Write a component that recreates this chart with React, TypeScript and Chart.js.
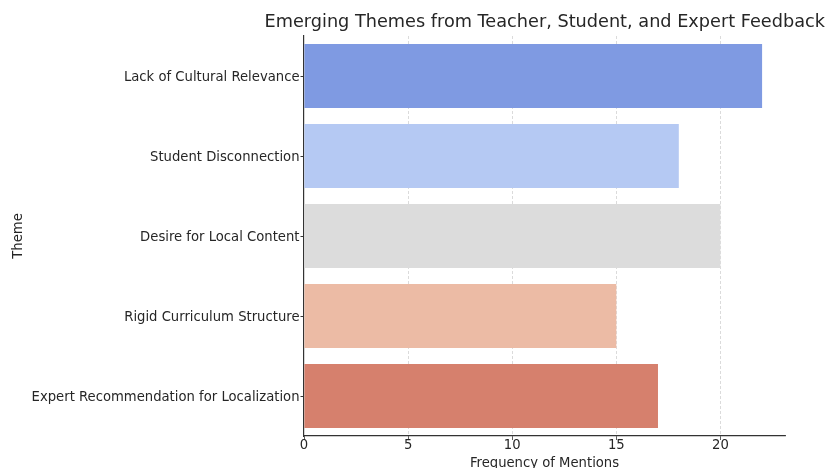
import React, { useEffect, useRef } from "react";
import { Chart, registerables } from "chart.js";

Chart.register(...registerables);

const categories = [
  "Lack of Cultural Relevance",
  "Student Disconnection",
  "Desire for Local Content",
  "Rigid Curriculum Structure",
  "Expert Recommendation for Localization",
];
const mentions = [22, 18, 20, 15, 17];
const barColors = ["#7F9AE2", "#B5C9F3", "#DCDCDC", "#ECBBA5", "#D6806D"];
const xTicks = [0, 5, 10, 15, 20];
const titleText = "Emerging Themes from Teacher, Student, and Expert Feedback";
const xTitle = "Frequency of Mentions";
const yTitle = "Theme";

const FONT = "'DejaVu Sans', sans-serif";
const TEXT = "#262626";

export default function App() {
  const ref = useRef<HTMLCanvasElement | null>(null);

  useEffect(() => {
    if (!ref.current) return;
    const chart = new Chart(ref.current, {
      type: "bar",
      data: {
        labels: categories,
        datasets: [
          {
            data: mentions,
            backgroundColor: barColors,
            borderWidth: 0,
            categoryPercentage: 0.8,
            barPercentage: 1,
          },
        ],
      },
      options: {
        indexAxis: "y",
        animation: false,
        responsive: true,
        maintainAspectRatio: false,
        layout: { padding: { left: 0, right: 3, top: 0, bottom: 0 } },
        plugins: {
          legend: { display: false },
          tooltip: { enabled: false },
          title: {
            display: true,
            text: titleText,
            align: "end",
            color: TEXT,
            font: { family: FONT, size: 17.7, weight: "normal" },
            padding: { top: 12, bottom: 2.76 },
          },
        },
        scales: {
          x: {
            min: 0,
            max: 23.1,
            z: 1,
            afterBuildTicks: (scale: any) => {
              scale.ticks = xTicks.map((v) => ({ value: v }));
            },
            afterFit: (scale: any) => {
              scale.height = 44;
            },
            ticks: {
              color: TEXT,
              font: { family: FONT, size: 13.2 },
              padding: -2,
            },
            grid: {
              display: true,
              drawOnChartArea: true,
              color: (ctx: any) =>
                ctx.tick && ctx.tick.value === 0 ? "rgba(0,0,0,0)" : "rgba(0,0,0,0.18)",
              tickColor: "#333333",
              tickLength: 4,
              lineWidth: 0.8,
            },
            border: { display: true, color: "#333333", width: 1.2, dash: [3, 2] },
            title: {
              display: true,
              text: xTitle,
              color: TEXT,
              font: { family: FONT, size: 13.2 },
              padding: { top: 0, bottom: 8.2 },
            },
          },
          y: {
            afterFit: (scale: any) => {
              scale.width = 304;
            },
            ticks: {
              color: TEXT,
              font: { family: FONT, size: 13.2 },
              padding: 1,
              labelOffset: 1.5,
            },
            grid: {
              display: true,
              offset: false,
              drawOnChartArea: false,
              tickColor: "#333333",
              tickLength: 3.5,
            },
            border: { display: true, color: "#333333", width: 1.2 },
            title: {
              display: true,
              text: yTitle,
              color: TEXT,
              font: { family: FONT, size: 13.2 },
              padding: { top: 10.5, bottom: 0 },
            },
          },
          yRightSpace: {
            type: "linear",
            axis: "y",
            position: "right",
            display: true,
            ticks: { display: false },
            grid: { display: false, drawTicks: false },
            border: { display: false },
            afterFit: (scale: any) => {
              scale.width = 40;
            },
          },
        },
      },
    } as any);
    return () => chart.destroy();
  }, []);

  return (
    <div
      style={{
        position: "absolute",
        left: 0,
        top: 0,
        width: 828,
        height: 468,
        overflow: "hidden",
        background: "#ffffff",
      }}
    >
      <div style={{ position: "relative", width: 828, height: 480 }}>
        <canvas ref={ref} />
      </div>
    </div>
  );
}
